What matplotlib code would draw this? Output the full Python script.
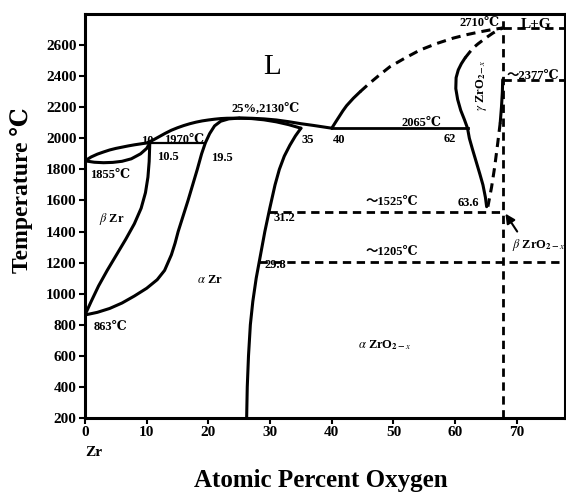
import numpy as np
import matplotlib.pyplot as plt

plt.rcParams['font.family'] = ['Liberation Serif', 'DejaVu Serif', 'Noto Sans CJK SC']
plt.rcParams['mathtext.fontset'] = 'stix'

# Zr-O phase boundaries: x = at.% O, t = deg C
liq_l_x = [0, 1, 2, 3, 4, 5, 6, 7, 8, 9, 10, 11, 12, 13, 14, 15, 16, 17, 18, 19, 20,
           21, 22, 23, 25, 27, 29, 31, 33, 35, 37, 39, 40]
liq_l_t = [1855, 1880, 1898, 1912, 1925, 1935, 1943, 1951, 1958, 1964, 1970, 1988, 2010,
           2032, 2052, 2068, 2082, 2094, 2104, 2112, 2118, 2123, 2127, 2129, 2130, 2129,
           2125, 2118, 2107, 2094, 2083, 2071, 2065]

sol_b_x = [0, 1.5, 3, 4.5, 6, 7.5, 9, 10, 10.5]
sol_b_t = [1855, 1846, 1843, 1845, 1852, 1868, 1900, 1935, 1970]

beta_x = [0, 1.0, 2.2, 3.6, 5.1, 6.6, 8.0, 9.1, 9.8, 10.2, 10.4, 10.5]
beta_t = [863, 950, 1050, 1150, 1250, 1350, 1450, 1550, 1650, 1750, 1850, 1970]

alpha_l_x = [0, 2, 4, 6, 8, 10, 11.7, 12.9, 14.0, 14.6, 15.1, 15.9, 16.7, 17.45, 18.2,
             18.9, 19.5, 20.2, 21.0, 22.0, 23.3, 25]
alpha_l_t = [863, 880, 905, 940, 985, 1035, 1090, 1150, 1250, 1325, 1400, 1500, 1600,
             1700, 1800, 1900, 1970, 2030, 2080, 2110, 2125, 2130]

sol_a_x = [25, 27, 29, 31, 33, 35]
sol_a_t = [2130, 2127, 2119, 2106, 2088, 2065]

alpha_r_x = [26.2, 26.3, 26.5, 26.8, 27.2, 27.75, 28.45, 29.15, 29.95, 30.8, 31.5,
             32.3, 33.2, 34.1, 35.0]
alpha_r_t = [200, 400, 600, 800, 950, 1100, 1250, 1400, 1550, 1700, 1800, 1885, 1955,
             2015, 2065]

liq_r_x = [40, 40.6, 41.2, 41.8, 42.4, 43.5, 44.6]
liq_r_t = [2065, 2103, 2140, 2177, 2210, 2258, 2300]
liq_r_dash_x = [44.6, 46, 47.5, 49.4, 51.8, 54.3, 57, 59.7, 62, 64, 66, 67.7]
liq_r_dash_t = [2300, 2350, 2400, 2460, 2515, 2568, 2610, 2645, 2668, 2685, 2700, 2710]

gam_l_x = [65.1, 64.9, 64.5, 64.0, 63.4, 62.8, 62.3, 62.0, 61.5, 60.9, 60.4, 60.1,
           60.15, 60.5, 61.0, 61.6]
gam_l_t = [1560, 1620, 1700, 1770, 1850, 1930, 2000, 2065, 2120, 2180, 2250, 2320,
           2390, 2440, 2480, 2517]
gam_l_dash_x = [61.6, 62.3, 62.9, 63.7, 64.5, 65.3, 66.1, 66.9, 67.7]
gam_l_dash_t = [2517, 2552, 2581, 2608, 2632, 2655, 2677, 2695, 2710]

gam_r_x = [67.7, 67.65, 67.5, 67.3]
gam_r_t = [2377, 2300, 2200, 2100]
gam_r_dash_x = [67.3, 66.9, 66.4, 65.9, 65.3]
gam_r_dash_t = [2100, 1970, 1815, 1686, 1560]

# invariant lines
solid_iso = [(1970, 10, 19.5), (2065, 40, 62)]
dash_iso_t = [1525, 1205]          # start at the alpha-Zr boundary on the left
dash_top = [(2710, 67.7, 77.8), (2377, 67.7, 77.8)]
x_stoich = 67.7
x_right = 77.8

xticks = [0, 10, 20, 30, 40, 50, 60, 70]
yticks = list(range(200, 2700, 200))

fig = plt.figure(figsize=(5.66, 4.95), dpi=100)
ax = fig.add_axes([85 / 566, 77 / 495, 480 / 566, 404 / 495])

lw = 2.2
dash = (0, (3, 2))
for xs, ts in [(liq_l_x, liq_l_t), (sol_b_x, sol_b_t), (beta_x, beta_t),
               (alpha_l_x, alpha_l_t), (sol_a_x, sol_a_t), (alpha_r_x, alpha_r_t),
               (liq_r_x, liq_r_t), (gam_l_x, gam_l_t), (gam_r_x, gam_r_t)]:
    ax.plot(xs, ts, color='k', lw=lw, solid_capstyle='round', solid_joinstyle='round')
for xs, ts in [(liq_r_dash_x, liq_r_dash_t), (gam_l_dash_x, gam_l_dash_t),
               (gam_r_dash_x, gam_r_dash_t)]:
    ax.plot(xs, ts, color='k', lw=lw, ls=dash)

for t, x0, x1 in solid_iso:
    ax.plot([x0, x1], [t, t], color='k', lw=1.6 if t < 2000 else 2.0)
for t in dash_iso_t:
    x0 = np.interp(t, alpha_r_t, alpha_r_x)
    x1 = x_stoich if t > 1400 else x_right
    ax.plot([x0, x1], [t, t], color='k', lw=2.0, ls=dash)
for t, x0, x1 in dash_top:
    ax.plot([x0, x1], [t, t], color='k', lw=2.0, ls=dash)
ax.plot([x_stoich, x_stoich], [200, 2800], color='k', lw=2.0, ls=dash)

ax.set_xlim(0, x_right)
ax.set_ylim(200, 2800)
ax.set_xticks(xticks)
ax.set_yticks(yticks)
ax.tick_params(direction='out', length=4, width=1.5, labelsize=11, pad=2)
for lab in ax.get_xticklabels() + ax.get_yticklabels():
    lab.set_fontweight('bold')
for s in ax.spines.values():
    s.set_linewidth(2.2)

b = dict(fontsize=9, fontweight='bold', ha='center', va='center')
ax.text(30.3, 2460, 'L', fontsize=21, ha='center', va='center')
ax.text(29.3, 2195, '25%,2130℃', **b)
ax.text(10.1, 1985, '10', **b)
ax.text(16.0, 1990, '1970℃', **b)
ax.text(13.4, 1880, '10.5', **b)
ax.text(22.2, 1873, '19.5', **b)
ax.text(4.1, 1764, '1855℃', **b)
ax.text(4.4, 1480, r'$\beta$ Zr', **b)
ax.text(20.3, 1088, r'$\alpha$ Zr', **b)
ax.text(4.1, 785, '863℃', **b)
ax.text(36.1, 1989, '35', **b)
ax.text(41.2, 1989, '40', **b)
ax.text(54.6, 2098, '2065℃', **b)
ax.text(59.2, 1995, '62', **b)
ax.text(64.0, 2742, '2710℃', **b)
ax.text(73.1, 2735, 'L+G', fontsize=11, fontweight='bold', ha='center', va='center')
ax.text(72.6, 2400, '～2377℃', **b)
ax.text(64.3, 2343, r'$\gamma$ ZrO$_{\mathbf{2-}x}$', rotation=90, **b)
ax.text(49.8, 1590, '～1525℃', **b)
ax.text(62.1, 1583, '63.6', **b)
ax.text(32.3, 1487, '31.2', **b)
ax.text(49.8, 1270, '～1205℃', **b)
ax.text(30.8, 1185, '29.8', **b)
ax.text(69.2, 1313, r'$\beta$ ZrO$_{\mathbf{2-}x}$', fontsize=9, fontweight='bold',
        ha='left', va='center')
ax.text(48.6, 670, r'$\alpha$ ZrO$_{\mathbf{2-}x}$', **b)
ax.annotate('', xy=(67.9, 1530), xytext=(70.3, 1385),
            arrowprops=dict(arrowstyle='-|>', lw=1.5, color='k', mutation_scale=14))

ax.text(1.5, -0.085, 'Zr', transform=ax.get_xaxis_transform(), fontsize=11,
        fontweight='bold', ha='center', va='center')
fig.text(321 / 566, 1 - 481 / 495, 'Atomic Percent Oxygen', fontsize=18,
         fontweight='bold', ha='center', va='center')
fig.text(22 / 566, 1 - 190 / 495, 'Temperature ℃', fontsize=17, fontweight='bold',
         rotation=90, ha='center', va='center')

fig.savefig('out.png', dpi=100)
